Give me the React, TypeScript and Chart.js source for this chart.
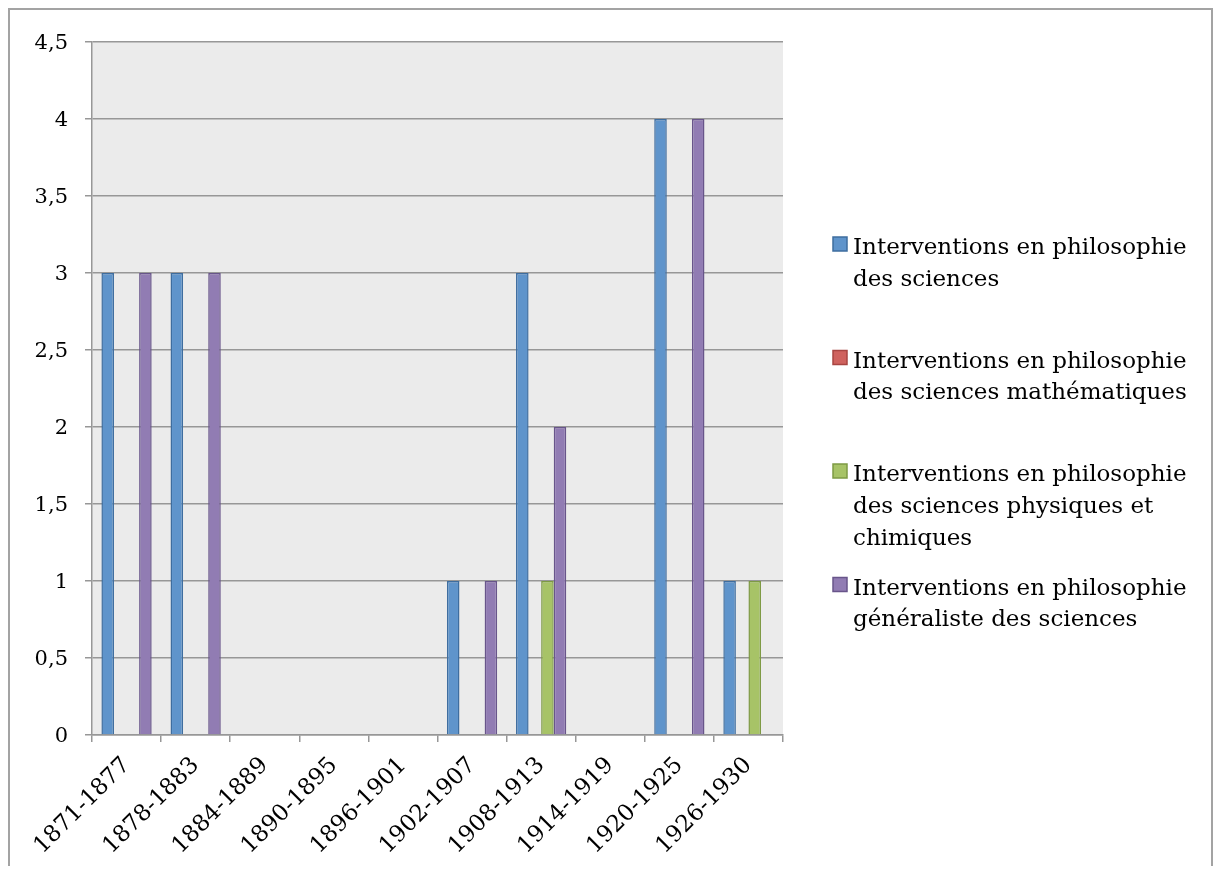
import React, { useEffect, useRef } from 'react';
import { Chart, registerables } from 'chart.js';

Chart.register(...registerables);

const CATEGORIES = [
  '1871-1877', '1878-1883', '1884-1889', '1890-1895', '1896-1901',
  '1902-1907', '1908-1913', '1914-1919', '1920-1925', '1926-1930',
];
const PHIL_SCIENCES = [3, 3, 0, 0, 0, 1, 3, 0, 4, 1];
const PHIL_MATH = [0, 0, 0, 0, 0, 0, 0, 0, 0, 0];
const PHIL_PHYS_CHIM = [0, 0, 0, 0, 0, 0, 1, 0, 0, 1];
const PHIL_GENERAL = [3, 3, 0, 0, 0, 1, 2, 0, 4, 0];

const SERIES_LABELS = [
  'Interventions en philosophie des sciences',
  'Interventions en philosophie des sciences mathématiques',
  'Interventions en philosophie des sciences physiques et chimiques',
  'Interventions en philosophie généraliste des sciences',
];
const LEGEND_LINES = [
  ['Interventions en philosophie', 'des sciences'],
  ['Interventions en philosophie', 'des sciences mathématiques'],
  ['Interventions en philosophie', 'des sciences physiques et', 'chimiques'],
  ['Interventions en philosophie', 'généraliste des sciences'],
];
const Y_MIN = 0;
const Y_MAX = 4.5;
const Y_STEP = 0.5;

const FILLS = ['#5f94cb', '#cf625e', '#a7c367', '#917cb3'];
const BORDERS = ['#3e6d9f', '#a84542', '#7e9a44', '#68558a'];

const FONT = '"DejaVu Serif", serif';

const bgPlugin = {
  id: 'plotBg',
  beforeDraw(chart: any) {
    const { ctx, chartArea } = chart;
    if (!chartArea) return;
    ctx.save();
    ctx.fillStyle = '#ebebeb';
    ctx.fillRect(chartArea.left, chartArea.top, chartArea.right - chartArea.left, chartArea.bottom - chartArea.top);
    ctx.restore();
  },
};

const legendPlugin = {
  id: 'sideLegend',
  afterDraw(chart: any) {
    const { ctx } = chart;
    ctx.save();
    ctx.font = `23px ${FONT}`;
    ctx.textBaseline = 'alphabetic';
    ctx.textAlign = 'left';
    chart.data.datasets.forEach((ds: any, i: number) => {
      const base = 244 + i * 113.5;
      ctx.fillStyle = ds.backgroundColor;
      ctx.fillRect(823, base - 17, 14, 14);
      ctx.strokeStyle = ds.borderColor;
      ctx.lineWidth = 1.5;
      ctx.strokeRect(823, base - 17, 14, 14);
      ctx.fillStyle = '#000';
      LEGEND_LINES[i].forEach((line, j) => {
        ctx.fillText(line, 843, base + j * 31.8);
      });
    });
    ctx.restore();
  },
};

export default function App() {
  const ref = useRef<HTMLCanvasElement | null>(null);

  useEffect(() => {
    if (!ref.current) return;
    const seriesData = [PHIL_SCIENCES, PHIL_MATH, PHIL_PHYS_CHIM, PHIL_GENERAL];
    const chart = new Chart(ref.current, {
      type: 'bar',
      data: {
        labels: CATEGORIES,
        datasets: seriesData.map((d, i) => ({
          label: SERIES_LABELS[i],
          data: d,
          backgroundColor: FILLS[i],
          borderColor: BORDERS[i],
          borderWidth: (c: any) => (c.raw === 0 ? 0 : 1.5),
          categoryPercentage: 4 / 5.5,
          barPercentage: 1,
        })),
      },
      options: {
        responsive: false,
        animation: false,
        devicePixelRatio: 1,
        layout: { padding: { top: 32, right: 428, left: 0, bottom: 0 } },
        plugins: {
          legend: { display: false },
          tooltip: { enabled: false },
          title: { display: false },
        },
        scales: {
          x: {
            offset: true,
            grid: {
              display: true,
              drawOnChartArea: false,
              drawTicks: true,
              tickLength: 7,
              color: '#979797',
              lineWidth: 1.5,
              offset: true,
            },
            border: { display: true, color: '#979797', width: 1.5 },
            ticks: {
              font: { family: FONT, size: 23 },
              color: '#000',
              maxRotation: 45,
              minRotation: 45,
              padding: 10,
              autoSkip: false,
            },
            afterFit(scale: any) {
              scale.height = 131;
              scale.paddingLeft = 0;
              scale.paddingRight = 0;
            },
          },
          y: {
            min: Y_MIN,
            max: Y_MAX,
            grid: {
              color: '#979797',
              lineWidth: 1.5,
              tickLength: 7,
              drawTicks: true,
            },
            border: { display: true, color: '#979797', width: 1.5 },
            ticks: {
              stepSize: Y_STEP,
              font: { family: FONT, size: 21 },
              color: '#000',
              padding: 17,
              labelOffset: 2,
              callback: (v: any) => String(v).replace('.', ','),
            },
            afterFit(scale: any) {
              scale.width = 82;
              scale.paddingTop = 0;
              scale.paddingBottom = 0;
            },
          },
        },
      },
      plugins: [bgPlugin, legendPlugin],
    } as any);
    return () => chart.destroy();
  }, []);

  return (
    <div
      style={{
        width: 1205,
        height: 858,
        boxSizing: 'border-box',
        borderTop: '2px solid #a3a3a3',
        borderLeft: '2px solid #a3a3a3',
        borderRight: '2px solid #a3a3a3',
        background: '#fff',
        overflow: 'hidden',
      }}
    >
      <canvas ref={ref} width={1201} height={856} style={{ display: 'block' }} />
    </div>
  );
}
